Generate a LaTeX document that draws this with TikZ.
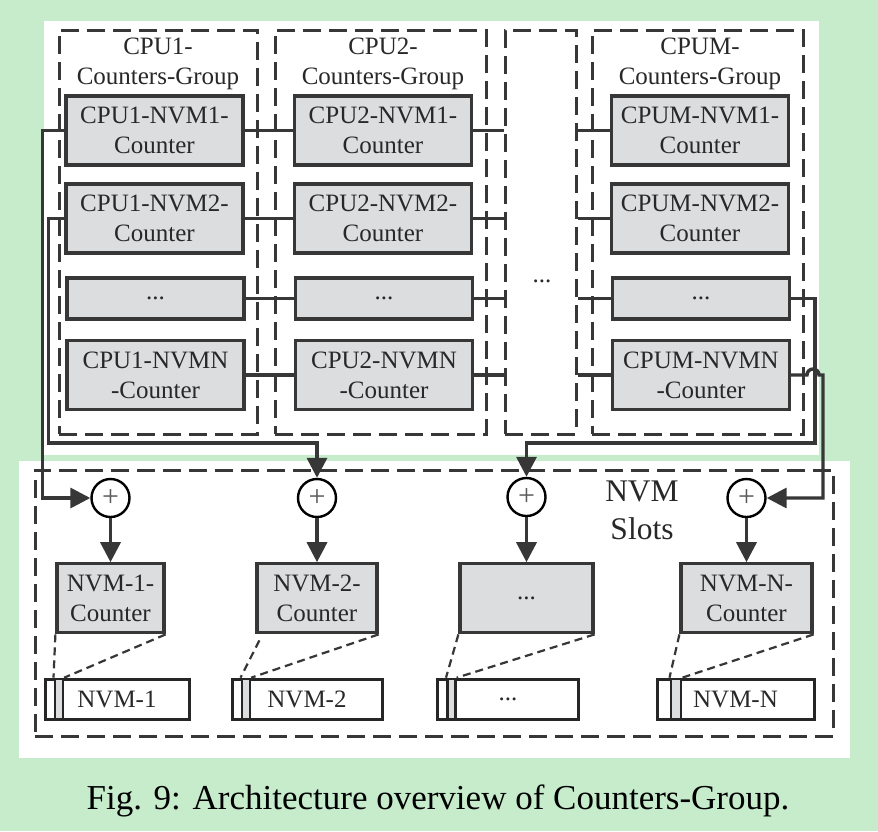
\documentclass[tikz,border=0pt]{standalone}
\usepackage{fontspec}
\setmainfont{Liberation Serif}
\usetikzlibrary{positioning,arrows.meta}
\definecolor{bggreen}{RGB}{198,236,204}
\definecolor{boxgray}{RGB}{220,221,223}
\definecolor{linec}{RGB}{55,55,55}
\definecolor{textc}{RGB}{40,40,40}

\begin{document}
\begin{tikzpicture}[x=1pt, y=-1pt,
  >={Triangle[length=20pt,width=20pt]},
  cnt/.style={draw=linec, line width=3.2pt, fill=boxgray, text=textc, minimum width=177pt, minimum height=69pt, inner sep=0pt, align=center, font=\fontsize{25}{30}\selectfont},
  grp/.style={draw=linec, line width=3pt, dash pattern=on 18pt off 8pt, inner sep=0pt},
  title/.style={text=textc, align=center, font=\fontsize{25}{30}\selectfont},
  sum/.style={circle, draw=black, line width=2.4pt, fill=white, minimum size=38pt, inner sep=0pt, text=black!65, font=\fontsize{30}{30}\selectfont},
  slotbar/.style={draw=black!85, line width=3pt, fill=white, minimum height=40pt, inner sep=0pt, text=textc, font=\fontsize{25}{30}\selectfont},
  tagbox/.style={draw=black!85, line width=2.6pt, fill=boxgray, minimum width=8pt, minimum height=40pt, inner sep=0pt, anchor=west},
  link/.style={draw=linec, line width=3.4pt},
  zoomline/.style={draw=linec, line width=2.2pt, dash pattern=on 8pt off 5pt}]

\useasboundingbox (0,0) rectangle (878,831);
\fill[bggreen] (0,0) rectangle (878,831);
\fill[white] (44,21) rectangle (819,455);
\fill[white] (19,461) rectangle (850,758);

% counters groups
\node (grp1) at (158,232) [grp, minimum width=198pt, minimum height=404pt] {};
\node (grp2) at (380.5,232) [grp, minimum width=211pt, minimum height=404pt] {};
\node (grp_mid) at (540.5,232) [grp, minimum width=71pt, minimum height=404pt] {};
\node (grpM) at (697.5,232) [grp, minimum width=211pt, minimum height=404pt] {};

\node (grp1_title) at (158,64) [title] {CPU1-\\Counters-Group};
\node (grp2_title) at (383,64) [title] {CPU2-\\Counters-Group};
\node (grpM_title) at (700,64) [title] {CPUM-\\Counters-Group};
\node (mid_dots) at (542,281) [title] {...};

\node (cpu1_nvm1) at (154.5,130.5) [cnt] {CPU1-NVM1-\\Counter};
\node (cpu1_nvm2) at (154.5,218.5) [cnt] {CPU1-NVM2-\\Counter};
\node (cpu1_dots) at (155.5,298.5) [cnt, minimum height=41pt] {...};
\node (cpu1_nvmn) at (155.5,375) [cnt] {CPU1-NVMN\\-Counter};

\node (cpu2_nvm1) at (383,130.5) [cnt] {CPU2-NVM1-\\Counter};
\node (cpu2_nvm2) at (383,218.5) [cnt] {CPU2-NVM2-\\Counter};
\node (cpu2_dots) at (384,298.5) [cnt, minimum height=41pt] {...};
\node (cpu2_nvmn) at (384,375) [cnt] {CPU2-NVMN\\-Counter};

\node (cpuM_nvm1) at (700,130.5) [cnt] {CPUM-NVM1-\\Counter};
\node (cpuM_nvm2) at (700,218.5) [cnt] {CPUM-NVM2-\\Counter};
\node (cpuM_dots) at (701,298.5) [cnt, minimum height=41pt] {...};
\node (cpuM_nvmn) at (701,375) [cnt] {CPUM-NVMN\\-Counter};

\draw [link] (cpu1_nvm1) -- (cpu2_nvm1);
\draw [link] (cpu1_nvm2) -- (cpu2_nvm2);
\draw [link] (cpu1_dots) -- (cpu2_dots);
\draw [link] (cpu1_nvmn) -- (cpu2_nvmn);
\draw [link] (cpu2_nvm1.east) -- (cpu2_nvm1.east -| grp_mid.west);
\draw [link] (cpu2_nvm2.east) -- (cpu2_nvm2.east -| grp_mid.west);
\draw [link] (cpu2_dots.east) -- (cpu2_dots.east -| grp_mid.west);
\draw [link] (cpu2_nvmn.east) -- (cpu2_nvmn.east -| grp_mid.west);
\draw [link] (cpuM_nvm1.west) -- (cpuM_nvm1.west -| grp_mid.east);
\draw [link] (cpuM_nvm2.west) -- (cpuM_nvm2.west -| grp_mid.east);
\draw [link] (cpuM_dots.west) -- (cpuM_dots.west -| grp_mid.east);
\draw [link] (cpuM_nvmn.west) -- (cpuM_nvmn.west -| grp_mid.east);

% NVM slots
\node (slots) at (434,603) [grp, minimum width=798pt, minimum height=266pt] {};
\node (slots_title) at (642,510) [text=textc, align=center, font=\fontsize{31.5}{38}\selectfont] {NVM\\Slots};

\node (sum1) at (110.5,498) [sum] {+};
\node (sum2) at (317,498) [sum] {+};
\node (sum3) at (526.5,497) [sum] {+};
\node (sum4) at (746.5,498) [sum] {+};

\node (nvm1_cnt) [cnt, below=44pt of sum1, minimum width=107pt] {NVM-1-\\Counter};
\node (nvm2_cnt) [cnt, below=44pt of sum2, minimum width=120pt] {NVM-2-\\Counter};
\node (nvmd_cnt) [cnt, below=45pt of sum3, minimum width=133pt] {...};
\node (nvmn_cnt) [cnt, below=44pt of sum4, minimum width=131pt] {NVM-N-\\Counter};

\node (slot1) at (117,699) [slotbar, minimum width=144pt] {NVM-1};
\node (slot2) at (307,699) [slotbar, minimum width=150pt] {NVM-2};
\node (slotd) at (508,699) [slotbar, minimum width=141pt] {...};
\node (slotn) at (735.5,699) [slotbar, minimum width=157pt] {NVM-N};

\node (slot1_tag) [tagbox, right=10pt of slot1.west] {};
\node (slot2_tag) [tagbox, right=10pt of slot2.west] {};
\node (slotd_tag) [tagbox, right=10pt of slotd.west] {};
\node (slotn_tag) [tagbox, right=14pt of slotn.west, minimum width=10pt] {};

\draw [zoomline] (nvm1_cnt.south west) -- (slot1_tag.north west);
\draw [zoomline] (nvm1_cnt.south east) -- (slot1_tag.north east);
\draw [zoomline] ([shift={(4pt,-6pt)}]nvm2_cnt.south west) -- (slot2_tag.north west);
\draw [zoomline] (nvm2_cnt.south east) -- (slot2_tag.north east);
\draw [zoomline] (nvmd_cnt.south west) -- (slotd_tag.north west);
\draw [zoomline] (nvmd_cnt.south east) -- (slotd_tag.north east);
\draw [zoomline] (nvmn_cnt.south west) -- (slotn_tag.north west);
\draw [zoomline] (nvmn_cnt.south east) -- (slotn_tag.north east);

\draw [link, ->] (sum1) -- (nvm1_cnt);
\draw [link, ->] (sum2) -- (nvm2_cnt);
\draw [link, ->] (sum3) -- (nvmd_cnt);
\draw [link, ->] (sum4) -- (nvmn_cnt);

% buses into the adders
\coordinate (bus_l) at (317,443);
\coordinate (bus_r) at (526.5,443);
\draw [link, ->] (cpu1_nvm1.west) -- ++(-22pt,0) |- (sum1);
\draw [link, ->] (cpu1_nvm2.west) -- ++(-16pt,0) |- (bus_l) -- (sum2);
\draw [link, ->] (cpuM_dots.east) -- ++(24pt,0) |- (bus_r) -- (sum3);
\draw [link, ->] (cpuM_nvmn.east) -- (807,375) arc[start angle=180, end angle=0, radius=6pt] -- (823,375) |- (sum4);

\node (caption) at (438,809) [anchor=base, font=\fontsize{35}{40}\selectfont] {Fig. 9: Architecture overview of Counters-Group.};
\end{tikzpicture}
\end{document}
